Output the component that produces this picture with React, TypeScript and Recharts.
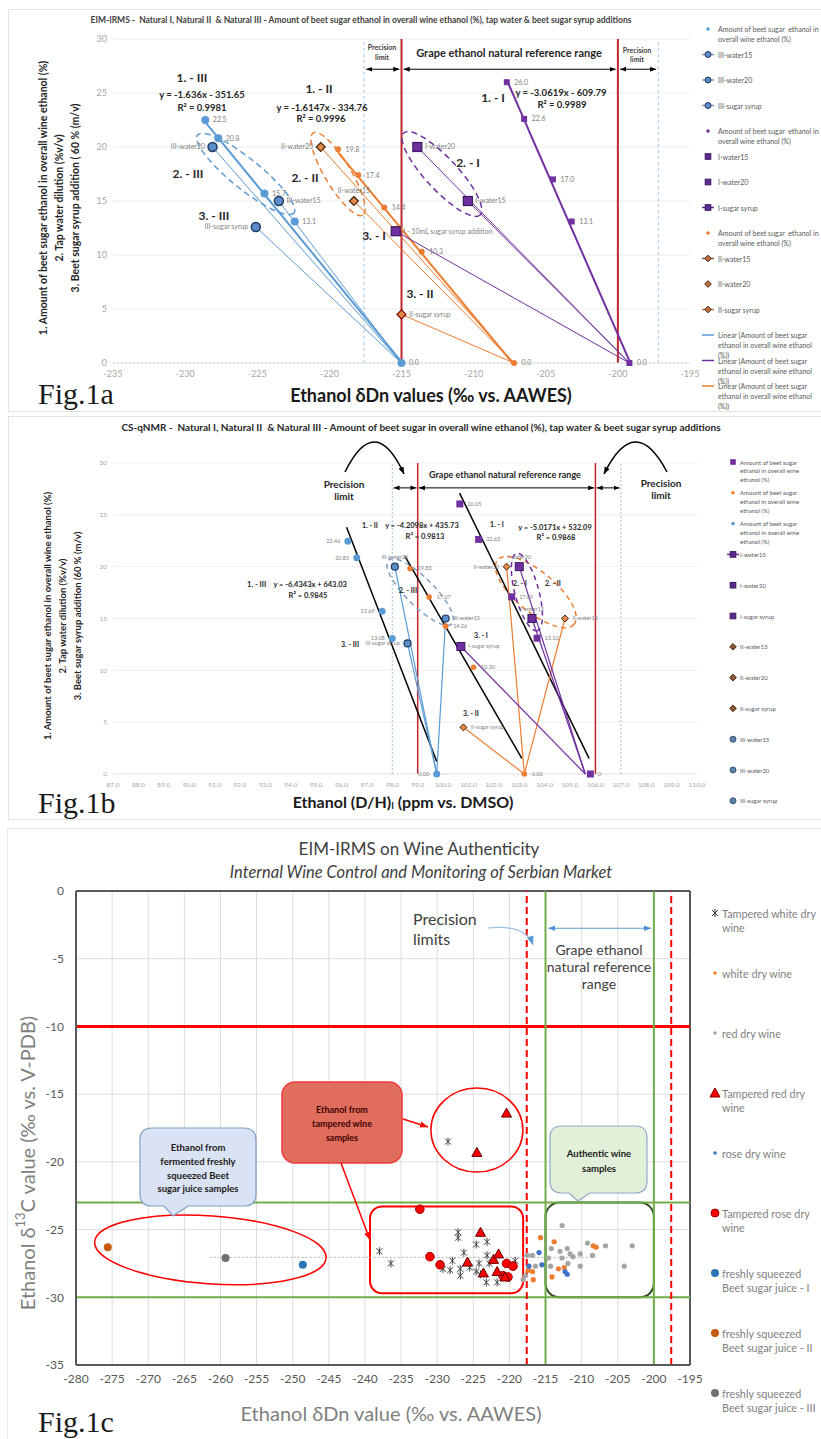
import React from "react"
import {
  ComposedChart,
  Scatter,
  XAxis,
  YAxis,
  CartesianGrid,
  ReferenceLine,
  ReferenceDot,
  ReferenceArea,
  LabelList,
} from "recharts"

const F = "Lato, 'Liberation Sans', sans-serif"
const SERIF = "'Liberation Serif', 'DejaVu Serif', serif"

const BLUE = "#5B9BD5"
const ORANGE = "#ED7D31"
const PURPLE = "#7030A0"
const NAVY = "#1F3864"
const BROWN = "#4A2409"
const DPURPLE = "#3A1860"
const RED = "#C0262D"

// ---------- Fig.1a  EIM-IRMS, δDn ----------
const aTicksX = [-235, -230, -225, -220, -215, -210, -205, -200, -195]
const yTicks30 = [0, 5, 10, 15, 20, 25, 30]
const aLimits = [-217.6, -215, -200, -197.2]

const aAmountIII = [
  { x: -228.6, y: 22.5, label: "22.5" },
  { x: -227.7, y: 20.8, label: "20.8" },
  { x: -224.5, y: 15.7, label: "15.7" },
  { x: -222.4, y: 13.1, label: "13.1" },
  { x: -215.0, y: 0, label: "0.0" },
]
const aAmountII = [
  { x: -219.4, y: 19.8, label: "19.8" },
  { x: -218.0, y: 17.4, label: "17.4" },
  { x: -216.2, y: 14.4, label: "14.4" },
  { x: -213.6, y: 10.3, label: "10.3" },
  { x: -207.2, y: 0, label: "0.0" },
]
const aAmountI = [
  { x: -207.7, y: 26.0, label: "26.0" },
  { x: -206.5, y: 22.6, label: "22.6" },
  { x: -204.5, y: 17.0, label: "17.0" },
  { x: -203.2, y: 13.1, label: "13.1" },
  { x: -199.2, y: 0, label: "0.0" },
]
const aTrendIII = [{ x: -228.6, y: 22.3 }, { x: -215.0, y: 0.1 }]
const aTrendII = [{ x: -219.4, y: 19.5 }, { x: -207.3, y: 0 }]
const aTrendI = [{ x: -207.7, y: 26.2 }, { x: -199.2, y: 0.2 }]

const aIIIWater20 = [{ x: -228.1, y: 20, label: "III-water20" }, { x: -215, y: 0, end: true }]
const aIIIWater15 = [{ x: -223.5, y: 15, label: "III-water15" }, { x: -215, y: 0, end: true }]
const aIIISyrup = [{ x: -225.1, y: 12.6, label: "III-sugar syrup" }, { x: -215, y: 0, end: true }]
const aIIWater20 = [{ x: -220.6, y: 20, label: "II-water20" }, { x: -207.2, y: 0, end: true }]
const aIIWater15 = [{ x: -218.3, y: 15, label: "II-water15" }, { x: -207.2, y: 0, end: true }]
const aIISyrup = [{ x: -215.0, y: 4.5, label: "II-sugar syrup" }, { x: -207.2, y: 0, end: true }]
const aIWater20 = [{ x: -213.9, y: 20, label: "I-water20" }, { x: -199.2, y: 0, end: true }]
const aIWater15 = [{ x: -210.4, y: 15, label: "I-water15" }, { x: -199.2, y: 0, end: true }]
const aISyrup = [{ x: -215.4, y: 12.2, label: "I - 10mL sugar syrup addition" }, { x: -199.2, y: 0, end: true }]

const amountLabel = ["Amount of beet sugar  ethanol in", "overall wine ethanol (%)"]
const linearLabel = ["Linear (Amount of beet sugar", "ethanol in overall wine ethanol", "(%))"]
const aLegendLabels = [
  amountLabel, ["III-water15"], ["III-water20"], ["III-sugar syrup"],
  amountLabel, ["I-water15"], ["I-water20"], ["I-sugar syrup"],
  amountLabel, ["II-water15"], ["II-water20"], ["II-sugar syrup"],
  linearLabel, linearLabel, linearLabel,
]

// ---------- Fig.1b  CS-qNMR, (D/H)I ----------
const bTicksX = [87, 88, 89, 90, 91, 92, 93, 94, 95, 96, 97, 98, 99, 100, 101, 102, 103, 104, 105, 106, 107, 108, 109, 110]
const bLimits = [98, 99, 106, 107]

const bAmountIII = [
  { x: 96.25, y: 22.46, label: "22.46" },
  { x: 96.6, y: 20.85, label: "20.85" },
  { x: 97.6, y: 15.69, label: "15.69" },
  { x: 98.0, y: 13.08, label: "13.08" },
  { x: 99.75, y: 0, label: "0.00" },
]
const bAmountII = [
  { x: 98.7, y: 19.83, label: "19.83" },
  { x: 99.45, y: 17.07, label: "17.07" },
  { x: 100.1, y: 14.26, label: "14.26" },
  { x: 101.2, y: 10.3, label: "10.30" },
  { x: 103.2, y: 0, label: "0.00" },
]
const bAmountI = [
  { x: 100.66, y: 26.05, label: "26.05" },
  { x: 101.4, y: 22.63, label: "22.63" },
  { x: 102.7, y: 17.09, label: "17.09" },
  { x: 103.7, y: 13.1, label: "13.10" },
  { x: 105.8, y: 0, label: "0" },
]
const bTrendIII = [{ x: 96.2, y: 23.8 }, { x: 99.75, y: 1.2 }]
const bTrendII = [{ x: 98.5, y: 21.0 }, { x: 103.1, y: 1.5 }]
const bTrendI = [{ x: 100.65, y: 27.1 }, { x: 105.75, y: 1.5 }]

const bIIIWater20 = [{ x: 98.1, y: 20, label: "III-water20" }, { x: 99.75, y: 0, end: true }]
const bIIIWater15 = [{ x: 100.1, y: 15, label: "III-water15" }, { x: 99.75, y: 0, end: true }]
const bIIISyrup = [{ x: 98.6, y: 12.6, label: "III-sugar syrup" }, { x: 99.75, y: 0, end: true }]
const bIIWater20 = [{ x: 102.5, y: 20, label: "II-water20" }, { x: 103.2, y: 0, end: true }]
const bIIWater15 = [{ x: 104.8, y: 15, label: "II-water15" }, { x: 103.2, y: 0, end: true }]
const bIISyrup = [{ x: 100.8, y: 4.5, label: "II-sugar syrup" }, { x: 103.2, y: 0, end: true }]
const bIWater20 = [{ x: 103.0, y: 20, label: "I-water20" }, { x: 105.6, y: 0, end: true }]
const bIWater15 = [{ x: 103.5, y: 15, label: "I-water15" }, { x: 105.6, y: 0, end: true }]
const bISyrup = [{ x: 100.7, y: 12.3, label: "I-sugar syrup" }, { x: 105.6, y: 0, end: true }]

const bAmount = ["Amount of beet sugar", "ethanol in overall wine", "ethanol (%)"]
const bLegendLabels = [
  bAmount, bAmount, bAmount,
  ["I-water15"], ["I-water20"], ["I-sugar syrup"],
  ["II-water15"], ["II-water20"], ["II-sugar syrup"],
  ["III-water15"], ["III-water20"], ["III-sugar syrup"],
]

// ---------- Fig.1c  δDn vs δ13C ----------
const cTicksX = [-280, -275, -270, -265, -260, -255, -250, -245, -240, -235, -230, -225, -220, -215, -210, -205, -200, -195]
const cTicksY = [-35, -30, -25, -20, -15, -10, -5, 0]

const cTamperedWhite = [
  { x: -238.0, y: -26.6 }, { x: -236.4, y: -27.5 }, { x: -228.5, y: -18.5 },
  { x: -227.1, y: -25.2 }, { x: -227.1, y: -25.6 }, { x: -224.6, y: -26.1 }, { x: -223.1, y: -25.9 },
  { x: -226.3, y: -26.7 }, { x: -227.9, y: -27.3 }, { x: -223.1, y: -26.9 }, { x: -224.2, y: -27.5 },
  { x: -228.2, y: -28.0 }, { x: -226.8, y: -27.9 }, { x: -224.6, y: -28.1 }, { x: -226.8, y: -28.4 },
  { x: -223.2, y: -28.9 }, { x: -221.7, y: -28.9 }, { x: -219.2, y: -27.3 }, { x: -229.2, y: -27.9 },
  { x: -222.8, y: -27.5 }, { x: -219.5, y: -27.6 }, { x: -225.5, y: -27.8 }, { x: -224.0, y: -28.3 },
]
const cTamperedRed = [
  { x: -220.4, y: -16.4 }, { x: -224.5, y: -19.3 }, { x: -224.0, y: -25.2 }, { x: -225.8, y: -27.4 },
  { x: -222.2, y: -27.2 }, { x: -221.5, y: -26.8 }, { x: -223.6, y: -28.2 }, { x: -221.7, y: -28.1 },
  { x: -220.6, y: -28.5 },
]
const cTamperedRose = [
  { x: -232.4, y: -23.5 }, { x: -231.0, y: -27.0 }, { x: -229.6, y: -27.6 }, { x: -220.4, y: -27.5 },
  { x: -219.5, y: -27.7 }, { x: -220.9, y: -28.4 }, { x: -220.2, y: -28.5 },
]
const cWhite = [
  { x: -215.7, y: -25.6 }, { x: -213.8, y: -25.9 }, { x: -217.4, y: -28.0 }, { x: -216.8, y: -28.1 },
  { x: -216.7, y: -28.7 }, { x: -213.2, y: -27.9 }, { x: -212.4, y: -27.8 }, { x: -214.1, y: -28.5 },
  { x: -208.4, y: -26.2 }, { x: -208.0, y: -26.3 },
]
const cRed = [
  { x: -212.7, y: -24.7 }, { x: -209.2, y: -26.0 }, { x: -206.7, y: -26.2 }, { x: -203.0, y: -26.2 },
  { x: -204.1, y: -27.7 }, { x: -210.2, y: -27.7 }, { x: -212.0, y: -26.4 }, { x: -213.0, y: -26.6 },
  { x: -214.2, y: -26.4 }, { x: -211.6, y: -26.8 }, { x: -211.2, y: -27.0 }, { x: -210.2, y: -26.8 },
  { x: -208.5, y: -26.9 }, { x: -212.7, y: -27.1 }, { x: -214.6, y: -27.1 }, { x: -211.9, y: -27.5 },
  { x: -214.3, y: -27.7 }, { x: -217.5, y: -26.9 }, { x: -216.8, y: -26.9 }, { x: -216.4, y: -27.7 },
  { x: -218.1, y: -28.7 }, { x: -217.8, y: -28.4 },
]
const cRose = [
  { x: -215.9, y: -26.7 }, { x: -217.3, y: -27.7 }, { x: -215.5, y: -27.6 }, { x: -212.3, y: -28.1 },
  { x: -212.0, y: -28.3 },
]
const cJuiceI = [{ x: -248.6, y: -27.6 }]
const cJuiceII = [{ x: -275.6, y: -26.3 }]
const cJuiceIII = [{ x: -259.3, y: -27.1 }]

const cLegendLabels = [
  ["Tampered white dry", "wine"], ["white dry wine"], ["red dry wine"], ["Tampered red dry", "wine"],
  ["rose dry wine"], ["Tampered rose dry", "wine"], ["freshly squeezed", "Beet sugar juice - I"],
  ["freshly squeezed", "Beet sugar juice - II"], ["freshly squeezed", "Beet sugar juice - III"],
]

// ---------- marker shapes ----------
const skip = (p: any) => p.payload?.end || p.cx == null
const none = () => <g />
const circ = (r: number, fill: string, stroke = "none", sw = 0) => (p: any) =>
  skip(p) ? <g /> : <circle cx={p.cx} cy={p.cy} r={r} fill={fill} stroke={stroke} strokeWidth={sw} />
const sq = (s: number, fill: string, stroke = "none", sw = 0) => (p: any) =>
  skip(p) ? <g /> : <rect x={p.cx - s / 2} y={p.cy - s / 2} width={s} height={s} fill={fill} stroke={stroke} strokeWidth={sw} />
const dia = (s: number, fill: string, stroke = "none", sw = 0) => (p: any) =>
  skip(p) ? <g /> : (
    <polygon points={`${p.cx},${p.cy - s} ${p.cx + s},${p.cy} ${p.cx},${p.cy + s} ${p.cx - s},${p.cy}`} fill={fill} stroke={stroke} strokeWidth={sw} />
  )
const tri = (s: number, fill: string, stroke: string) => (p: any) => (
  <polygon points={`${p.cx},${p.cy - s} ${p.cx + s},${p.cy + s * 0.8} ${p.cx - s},${p.cy + s * 0.8}`} fill={fill} stroke={stroke} strokeWidth={1} />
)
const star = (s: number, color: string) => (p: any) => (
  <g stroke={color} strokeWidth={1}>
    <line x1={p.cx - s} y1={p.cy - s} x2={p.cx + s} y2={p.cy + s} />
    <line x1={p.cx - s} y1={p.cy + s} x2={p.cx + s} y2={p.cy - s} />
    <line x1={p.cx} y1={p.cy - s - 1} x2={p.cx} y2={p.cy + s + 1} />
  </g>
)
const ell = (rx: number, ry: number, rot: number, stroke: string, dash?: string, sw = 1.5) => (p: any) => (
  <ellipse cx={p.cx} cy={p.cy} rx={rx} ry={ry} transform={`rotate(${rot} ${p.cx} ${p.cy})`} fill="none" stroke={stroke} strokeWidth={sw} strokeDasharray={dash} />
)
const dbl = (id: string, color: string, sw = 1) => (p: any) => (
  <line x1={p.x1} y1={p.y1} x2={p.x2} y2={p.y2} stroke={color} strokeWidth={sw} markerStart={`url(#${id})`} markerEnd={`url(#${id})`} />
)
const rrect = (rx: number, stroke: string, sw: number) => (p: any) => (
  <rect x={p.x} y={p.y} width={p.width} height={p.height} rx={rx} fill="none" stroke={stroke} strokeWidth={sw} />
)

const arrowDef = (id: string, color: string, size = 6) => (
  <marker id={id} viewBox="0 0 10 10" refX="10" refY="5" markerWidth={size} markerHeight={size} orient="auto-start-reverse" markerUnits="userSpaceOnUse">
    <path d="M0,1 L10,5 L0,9 z" fill={color} />
  </marker>
)

const lbl = (pos: any, size: number, color = "#7F7F7F") => (
  <LabelList dataKey="label" position={pos} fontSize={size} fill={color} fontFamily={F} offset={3} />
)

function FigA() {
  const tick = { fontSize: 9, fill: "#A6A6A6", fontFamily: F }
  return (
    <ComposedChart width={821} height={410} margin={{ top: 39, right: 131, bottom: 27, left: 83 }}>
      <defs>{arrowDef("hdA", "#000", 6)}</defs>
      <CartesianGrid vertical={false} stroke="#ECECEC" />
      <XAxis type="number" dataKey="x" domain={[-235, -195]} ticks={aTicksX} allowDataOverflow tickLine={false}
        axisLine={{ stroke: "#D0D0D0", strokeDasharray: "2 2" }} height={20} tick={tick} />
      <YAxis type="number" dataKey="y" domain={[0, 30]} ticks={yTicks30} tickLine={false} axisLine={false} width={30} tickMargin={0} tick={tick} />
      <ReferenceLine x={aLimits[0]} stroke="#9DC3E6" strokeDasharray="3 3" />
      <ReferenceLine x={aLimits[1]} stroke={RED} strokeWidth={2} />
      <ReferenceLine x={aLimits[2]} stroke={RED} strokeWidth={2} />
      <ReferenceLine x={aLimits[3]} stroke="#9DC3E6" strokeDasharray="3 3" />
      {[0, 1, 2].map((i) => (
        <ReferenceLine key={i} segment={[{ x: aLimits[i] + 0.15, y: 27.2 }, { x: aLimits[i + 1] - 0.15, y: 27.2 }]} shape={dbl("hdA", "#000")} />
      ))}
      <ReferenceDot x={-225.8} y={17.5} shape={ell(62, 15, 39, BLUE, "6 4")} />
      <ReferenceDot x={-219.4} y={17.5} shape={ell(48, 13, 59, ORANGE, "6 4")} />
      <ReferenceDot x={-212.2} y={17.5} shape={ell(56, 16, 47, PURPLE, "6 4")} />

      <Scatter data={aTrendIII} line={{ stroke: BLUE, strokeWidth: 2 }} shape={none} isAnimationActive={false} />
      <Scatter data={aTrendII} line={{ stroke: ORANGE, strokeWidth: 2 }} shape={none} isAnimationActive={false} />
      <Scatter data={aTrendI} line={{ stroke: PURPLE, strokeWidth: 2 }} shape={none} isAnimationActive={false} />

      <Scatter data={aIIIWater20} line={{ stroke: BLUE, strokeWidth: 1 }} shape={circ(4.5, "#5B8DC9", NAVY, 1.5)} isAnimationActive={false}>{lbl("left", 7)}</Scatter>
      <Scatter data={aIIIWater15} line={{ stroke: BLUE, strokeWidth: 1 }} shape={circ(4.5, "#5B8DC9", NAVY, 1.5)} isAnimationActive={false}>{lbl("right", 7)}</Scatter>
      <Scatter data={aIIISyrup} line={{ stroke: BLUE, strokeWidth: 1 }} shape={circ(4.5, "#5B8DC9", NAVY, 1.5)} isAnimationActive={false}>{lbl("left", 7)}</Scatter>
      <Scatter data={aIIWater20} line={{ stroke: ORANGE, strokeWidth: 1 }} shape={dia(4.5, "#E08A4A", BROWN, 1.2)} isAnimationActive={false}>{lbl("left", 7)}</Scatter>
      <Scatter data={aIIWater15} line={{ stroke: ORANGE, strokeWidth: 1 }} shape={dia(4.5, "#E08A4A", BROWN, 1.2)} isAnimationActive={false}>{lbl("top", 7)}</Scatter>
      <Scatter data={aIISyrup} line={{ stroke: ORANGE, strokeWidth: 1 }} shape={dia(4.5, "#E08A4A", "#8B0000", 1.2)} isAnimationActive={false}>{lbl("right", 7)}</Scatter>
      <Scatter data={aIWater20} line={{ stroke: PURPLE, strokeWidth: 1 }} shape={sq(9, PURPLE, DPURPLE, 1.2)} isAnimationActive={false}>{lbl("right", 7)}</Scatter>
      <Scatter data={aIWater15} line={{ stroke: PURPLE, strokeWidth: 1 }} shape={sq(9, PURPLE, DPURPLE, 1.2)} isAnimationActive={false}>{lbl("right", 7)}</Scatter>
      <Scatter data={aISyrup} line={{ stroke: PURPLE, strokeWidth: 1 }} shape={sq(9, PURPLE, DPURPLE, 1.2)} isAnimationActive={false}>{lbl("right", 7)}</Scatter>

      <Scatter data={aAmountIII} shape={circ(4, BLUE)} isAnimationActive={false}>{lbl("right", 7)}</Scatter>
      <Scatter data={aAmountII} shape={circ(3, ORANGE)} isAnimationActive={false}>{lbl("right", 7)}</Scatter>
      <Scatter data={aAmountI} shape={sq(6, PURPLE)} isAnimationActive={false}>{lbl("right", 7)}</Scatter>
    </ComposedChart>
  )
}

function FigB() {
  const tick = { fontSize: 6.5, fill: "#A6A6A6", fontFamily: F }
  return (
    <ComposedChart width={821} height={405} margin={{ top: 48, right: 124, bottom: 26, left: 83 }}>
      <defs>{arrowDef("hdB", "#000", 6)}</defs>
      <CartesianGrid vertical={false} stroke="#EFEFEF" />
      <XAxis type="number" dataKey="x" domain={[87, 110]} ticks={bTicksX} allowDataOverflow tickLine={false}
        axisLine={{ stroke: "#D9D9D9", strokeDasharray: "2 2" }} height={20} tick={tick} tickFormatter={(v: number) => v.toFixed(1)} />
      <YAxis type="number" dataKey="y" domain={[0, 30]} ticks={yTicks30} tickLine={false} axisLine={false} width={30} tickMargin={0} tick={tick} />
      <ReferenceLine x={bLimits[0]} stroke="#9DC3E6" strokeDasharray="2 2" />
      <ReferenceLine x={bLimits[1]} stroke={RED} strokeWidth={1.5} />
      <ReferenceLine x={bLimits[2]} stroke={RED} strokeWidth={1.5} />
      <ReferenceLine x={bLimits[3]} stroke="#BFBFBF" strokeDasharray="2 2" />
      {[0, 1, 2].map((i) => (
        <ReferenceLine key={i} segment={[{ x: bLimits[i] + 0.05, y: 27.6 }, { x: bLimits[i + 1] - 0.05, y: 27.6 }]} shape={dbl("hdB", "#000")} />
      ))}
      <ReferenceDot x={99.1} y={17.55} shape={ell(45, 14, 45, "#7F9FBF", "5 4")} />
      <ReferenceDot x={103.65} y={17.55} shape={ell(50, 20, 40, ORANGE, "5 4")} />
      <ReferenceDot x={103.3} y={17.55} shape={ell(40, 12, 75, PURPLE, "5 4")} />

      <Scatter data={bTrendIII} line={{ stroke: "#000", strokeWidth: 1.5 }} shape={none} isAnimationActive={false} />
      <Scatter data={bTrendII} line={{ stroke: "#000", strokeWidth: 1.5 }} shape={none} isAnimationActive={false} />
      <Scatter data={bTrendI} line={{ stroke: "#000", strokeWidth: 1.5 }} shape={none} isAnimationActive={false} />

      <Scatter data={bIIIWater20} line={{ stroke: BLUE, strokeWidth: 1.2 }} shape={circ(3.5, "#5B8DC9", NAVY, 1.2)} isAnimationActive={false}>{lbl("top", 5.5)}</Scatter>
      <Scatter data={bIIIWater15} line={{ stroke: BLUE, strokeWidth: 1.2 }} shape={circ(3.5, "#5B8DC9", NAVY, 1.2)} isAnimationActive={false}>{lbl("right", 5.5)}</Scatter>
      <Scatter data={bIIISyrup} line={{ stroke: BLUE, strokeWidth: 1.2 }} shape={circ(3.5, "#5B8DC9", NAVY, 1.2)} isAnimationActive={false}>{lbl("left", 5.5)}</Scatter>
      <Scatter data={bIIWater20} line={{ stroke: ORANGE, strokeWidth: 1.2 }} shape={dia(3.5, "#E08A4A", BROWN, 1)} isAnimationActive={false}>{lbl("left", 5.5)}</Scatter>
      <Scatter data={bIIWater15} line={{ stroke: ORANGE, strokeWidth: 1.2 }} shape={dia(3.5, "#E08A4A", BROWN, 1)} isAnimationActive={false}>{lbl("right", 5.5)}</Scatter>
      <Scatter data={bIISyrup} line={{ stroke: ORANGE, strokeWidth: 1.2 }} shape={dia(3.5, "#E08A4A", BROWN, 1)} isAnimationActive={false}>{lbl("right", 5.5)}</Scatter>
      <Scatter data={bIWater20} line={{ stroke: PURPLE, strokeWidth: 1.2 }} shape={sq(8, PURPLE, DPURPLE, 1)} isAnimationActive={false}>{lbl("top", 5.5)}</Scatter>
      <Scatter data={bIWater15} line={{ stroke: PURPLE, strokeWidth: 1.2 }} shape={sq(8, PURPLE, DPURPLE, 1)} isAnimationActive={false}>{lbl("top", 5.5)}</Scatter>
      <Scatter data={bISyrup} line={{ stroke: PURPLE, strokeWidth: 1.2 }} shape={sq(8, PURPLE, DPURPLE, 1)} isAnimationActive={false}>{lbl("right", 5.5)}</Scatter>

      <Scatter data={bAmountIII} shape={circ(3.5, BLUE)} isAnimationActive={false}>{lbl("left", 5.5)}</Scatter>
      <Scatter data={bAmountII} shape={circ(2.8, ORANGE)} isAnimationActive={false}>{lbl("right", 5.5)}</Scatter>
      <Scatter data={bAmountI} shape={sq(7, PURPLE)} isAnimationActive={false}>{lbl("right", 5.5)}</Scatter>
    </ComposedChart>
  )
}

function FigC() {
  const tick = { fontSize: 12, fill: "#595959", fontFamily: F }
  return (
    <ComposedChart width={821} height={609} margin={{ top: 61, right: 131, bottom: 44, left: 36 }}>
      <defs>{arrowDef("hdC", "#4A90D9", 7)}</defs>
      <CartesianGrid stroke="#DCDCDC" />
      <XAxis type="number" dataKey="x" domain={[-280, -195]} ticks={cTicksX} allowDataOverflow tickLine={false}
        axisLine={{ stroke: "#595959", strokeWidth: 2 }} height={30} tickMargin={3} tick={tick} />
      <YAxis type="number" dataKey="y" domain={[-35, 0]} ticks={cTicksY} tickLine={false}
        axisLine={{ stroke: "#595959", strokeWidth: 2 }} width={40} tickMargin={6} tick={tick} />
      <ReferenceLine y={0} stroke="#595959" strokeWidth={2} />
      <ReferenceLine x={-195} stroke="#595959" strokeWidth={2} />
      <ReferenceLine y={-10} stroke="#FF0000" strokeWidth={3} />
      <ReferenceLine y={-23} stroke="#70AD47" strokeWidth={2} />
      <ReferenceLine y={-30} stroke="#70AD47" strokeWidth={2} />
      <ReferenceLine x={-215} stroke="#70AD47" strokeWidth={2} />
      <ReferenceLine x={-200} stroke="#70AD47" strokeWidth={2} />
      <ReferenceLine x={-217.6} stroke="#FF0000" strokeWidth={2} strokeDasharray="7 4" />
      <ReferenceLine x={-197.6} stroke="#FF0000" strokeWidth={2} strokeDasharray="7 4" />
      <ReferenceLine segment={[{ x: -214.6, y: -2.75 }, { x: -200.4, y: -2.75 }]} shape={dbl("hdC", "#5B9BD5", 1.2)} />
      <ReferenceLine segment={[{ x: -261.5, y: -27.05 }, { x: -208, y: -27.05 }]} stroke="#B0B0B0" strokeDasharray="2 2" />
      <ReferenceArea x1={-239.3} x2={-218.1} y1={-29.7} y2={-23.3} shape={rrect(12, "#FF0000", 2)} />
      <ReferenceArea x1={-215} x2={-200} y1={-30} y2={-23} shape={rrect(14, "#2F4F1F", 2)} />
      <ReferenceDot x={-224.5} y={-17.65} shape={ell(46, 42, 0, "#FF0000", undefined, 1.5)} />
      <ReferenceDot x={-261.4} y={-26.5} shape={ell(116, 34, 4, "#FF0000", undefined, 1.5)} />

      <Scatter data={cRed} shape={circ(2.6, "#A5A5A5")} isAnimationActive={false} />
      <Scatter data={cWhite} shape={circ(2.6, ORANGE)} isAnimationActive={false} />
      <Scatter data={cRose} shape={circ(2.6, "#4472C4")} isAnimationActive={false} />
      <Scatter data={cTamperedWhite} shape={star(3, "#404040")} isAnimationActive={false} />
      <Scatter data={cTamperedRose} shape={circ(4.3, "#FF0000", "#A00000", 1)} isAnimationActive={false} />
      <Scatter data={cTamperedRed} shape={tri(5, "#FF0000", "#600000")} isAnimationActive={false} />
      <Scatter data={cJuiceI} shape={circ(4, "#2E75B6")} isAnimationActive={false} />
      <Scatter data={cJuiceII} shape={circ(4, "#C55A11")} isAnimationActive={false} />
      <Scatter data={cJuiceIII} shape={circ(4, "#6F6F6F")} isAnimationActive={false} />
    </ComposedChart>
  )
}

function T({ x, y, s = 10, b = false, c = "#262626", a = "middle", it = false, rot = 0, ff = F, base = false, children }: any) {
  return (
    <text x={x} y={y} fontSize={s} fontWeight={b ? 700 : 400} fill={c} textAnchor={a}
      dominantBaseline={base ? "auto" : "central"} fontStyle={it ? "italic" : "normal"} fontFamily={ff}
      transform={rot ? `rotate(${rot} ${x} ${y})` : undefined} xmlSpace="preserve">
      {children}
    </text>
  )
}

function Mark({ k, x, y, c, s = "none", line }: any) {
  return (
    <g>
      {line && <line x1={x - 6} y1={y} x2={x + 6} y2={y} stroke={line} strokeWidth={1.5} />}
      {k === "dot" && <circle cx={x} cy={y} r={1.8} fill={c} />}
      {k === "circ" && <circle cx={x} cy={y} r={3} fill={c} stroke={s} strokeWidth={1} />}
      {k === "bigcirc" && <circle cx={x} cy={y} r={4} fill={c} stroke={s} strokeWidth={1} />}
      {k === "sq" && <rect x={x - 2.8} y={y - 2.8} width={5.6} height={5.6} fill={c} stroke={s} strokeWidth={1} />}
      {k === "dia" && <polygon points={`${x},${y - 3.3} ${x + 3.3},${y} ${x},${y + 3.3} ${x - 3.3},${y}`} fill={c} stroke={s} strokeWidth={1} />}
      {k === "tri" && <polygon points={`${x},${y - 5} ${x + 5},${y + 4} ${x - 5},${y + 4}`} fill={c} stroke={s} strokeWidth={1} />}
      {k === "star" && (
        <g stroke={c} strokeWidth={1}>
          <line x1={x - 3} y1={y - 3} x2={x + 3} y2={y + 3} />
          <line x1={x - 3} y1={y + 3} x2={x + 3} y2={y - 3} />
          <line x1={x} y1={y - 4} x2={x} y2={y + 4} />
        </g>
      )}
    </g>
  )
}

const aMarks = [
  { k: "dot", c: BLUE }, { k: "circ", c: "#5B8DC9", s: NAVY, line: "#8497B0" }, { k: "circ", c: "#5B8DC9", s: NAVY, line: "#8497B0" },
  { k: "circ", c: "#5B8DC9", s: NAVY, line: "#8497B0" }, { k: "dot", c: PURPLE }, { k: "sq", c: "#5B2C8F", s: DPURPLE },
  { k: "sq", c: "#5B2C8F", s: DPURPLE }, { k: "sq", c: "#5B2C8F", s: DPURPLE, line: "#5B2C8F" }, { k: "dot", c: ORANGE },
  { k: "dia", c: "#C07040", s: BROWN, line: "#8B5A3C" }, { k: "dia", c: "#C07040", s: BROWN }, { k: "dia", c: "#C07040", s: BROWN, line: "#C07040" },
  { k: "none", line: BLUE }, { k: "none", line: PURPLE }, { k: "none", line: ORANGE },
]
const bMarks = [
  { k: "sq", c: PURPLE }, { k: "dot", c: ORANGE }, { k: "dot", c: BLUE },
  { k: "sq", c: "#5B2C8F", s: DPURPLE, line: PURPLE }, { k: "sq", c: "#5B2C8F", s: DPURPLE }, { k: "sq", c: "#5B2C8F", s: DPURPLE },
  { k: "dia", c: "#8B5A3C", s: BROWN }, { k: "dia", c: "#8B5A3C", s: BROWN }, { k: "dia", c: "#8B5A3C", s: BROWN },
  { k: "circ", c: "#5B7FA8", s: "#3B5778" }, { k: "circ", c: "#5B7FA8", s: "#3B5778" }, { k: "circ", c: "#5B7FA8", s: "#3B5778" },
]
const cMarks = [
  { k: "star", c: "#404040" }, { k: "dot", c: ORANGE }, { k: "dot", c: "#A5A5A5" }, { k: "tri", c: "#FF0000", s: "#800000" },
  { k: "dot", c: "#4472C4" }, { k: "bigcirc", c: "#FF0000", s: "#A00000" }, { k: "bigcirc", c: "#2E75B6" },
  { k: "bigcirc", c: "#C55A11" }, { k: "bigcirc", c: "#6F6F6F" },
]

function Overlay() {
  const yLab = [
    "1. Amount of beet sugar ethanol in overall wine ethanol (%)",
    "2. Tap water dilution (%v/v)",
  ]
  return (
    <svg width={821} height={1439} style={{ position: "absolute", left: 0, top: 0, pointerEvents: "none" }}>
      <defs>
        {arrowDef("ovK", "#000", 7)}
        {arrowDef("ovR", "#FF0000", 8)}
        {arrowDef("ovB", "#5B9BD5", 9)}
      </defs>
      {/* panel frames */}
      <rect x={8.5} y={9.5} width={820} height={402} fill="none" stroke="#E3E3E3" />
      <rect x={8.5} y={416.5} width={820} height={403} fill="none" stroke="#E3E3E3" />
      <rect x={7.5} y={828.5} width={820} height={620} fill="none" stroke="#E8E8E8" />

      {/* ---- Fig.1a ---- */}
      <T x={361} y={20} s={8.5} b c="#404040">EIM-IRMS -  Natural I, Natural II  &amp; Natural III - Amount of beet sugar ethanol in overall wine ethanol (%), tap water &amp; beet sugar syrup additions</T>
      <T x={382} y={47} s={7} b c="#404040">Precision</T>
      <T x={382} y={57} s={7} b c="#404040">limit</T>
      <T x={509} y={52} s={11} b c="#262626">Grape ethanol natural reference range</T>
      <T x={637} y={50} s={7} b c="#404040">Precision</T>
      <T x={637} y={59} s={7} b c="#404040">limit</T>
      <T x={192} y={77} s={12} b>1. - III</T>
      <T x={202} y={94} s={9.5} b>y = -1.636x - 351.65</T>
      <T x={202} y={107} s={9.5} b>R² = 0.9981</T>
      <T x={319} y={88} s={12} b>1. - II</T>
      <T x={322} y={107} s={9.5} b>y = -1.6147x - 334.76</T>
      <T x={321} y={118} s={9.5} b>R² = 0.9996</T>
      <T x={188} y={173} s={12} b>2. - III</T>
      <T x={305} y={177} s={12} b>2. - II</T>
      <T x={214} y={215} s={12} b>3. - III</T>
      <T x={374} y={235} s={12} b>3. - I</T>
      <T x={420} y={293} s={12} b>3. - II</T>
      <T x={493} y={97} s={12} b>1. - I</T>
      <T x={561} y={92} s={9.5} b>y = -3.0619x - 609.79</T>
      <T x={562} y={104} s={9.5} b>R² = 0.9989</T>
      <T x={468} y={162} s={12} b>2. - I</T>
      <T x={431} y={395} s={18} b c="#1A1A1A">Ethanol δDn values (‰ vs. AAWES)</T>
      <T x={38} y={404} s={30} a="start" ff={SERIF} base c="#1A1A1A">Fig.1a</T>
      <T x={43} y={198} s={10.5} b rot={-90}>{yLab[0]}</T>
      <T x={59} y={198} s={10.5} b rot={-90}>{yLab[1]}</T>
      <T x={75} y={198} s={10.5} b rot={-90}>3. Beet sugar syrup addition ( 60 % (m/v)</T>
      {aLegendLabels.map((lines, i) => {
        const y = 29 + i * 25.5
        const m = aMarks[i]
        return (
          <g key={i}>
            <Mark {...m} x={708} y={y} />
            {lines.map((t, j) => <T key={j} x={718} y={y + j * 10} s={7} a="start" c="#595959">{t}</T>)}
          </g>
        )
      })}

      {/* ---- Fig.1b ---- */}
      <T x={421} y={427} s={10} b c="#262626">CS-qNMR -  Natural I, Natural II  &amp; Natural III - Amount of beet sugar in overall wine ethanol (%), tap water &amp; beet sugar syrup additions</T>
      <path d="M345,472 Q375,411 404,474" fill="none" stroke="#000" strokeWidth={1.5} markerEnd="url(#ovK)" />
      <path d="M667,472 Q635,411 604,474" fill="none" stroke="#000" strokeWidth={1.5} markerEnd="url(#ovK)" />
      <T x={344} y={484} s={10} b>Precision</T>
      <T x={344} y={496} s={10} b>limit</T>
      <T x={505} y={474} s={9} b>Grape ethanol natural reference range</T>
      <T x={661} y={483} s={10} b>Precision</T>
      <T x={661} y={495} s={10} b>limit</T>
      <T x={370} y={525} s={7} b>1. - II</T>
      <T x={422} y={525} s={7.5} b>y = -4.2098x + 435.73</T>
      <T x={425} y={536} s={7.5} b>R² = 0.9813</T>
      <T x={497} y={524} s={7} b>1. - I</T>
      <T x={555} y={527} s={7.5} b>y = -5.0171x + 532.09</T>
      <T x={556} y={537} s={7.5} b>R² = 0.9868</T>
      <T x={297} y={584} s={7.5} b>1. - III    y = -6.4343x + 643.03</T>
      <T x={308} y={595} s={7.5} b>R² = 0.9845</T>
      <T x={408} y={590} s={7} b>2. - III</T>
      <T x={520} y={583} s={7} b>2. - I</T>
      <T x={553} y={583} s={7} b>2. - II</T>
      <T x={481} y={635} s={7} b>3. - I</T>
      <T x={350} y={644} s={7} b>3. - III</T>
      <T x={471} y={713} s={7} b>3. - II</T>
      <text x={403} y={801} fontSize={16} fontWeight={700} fill="#1A1A1A" textAnchor="middle" dominantBaseline="central" fontFamily={F}>
        Ethanol (D/H)<tspan fontSize={9} dy={4}>I</tspan><tspan dy={-4}> (ppm vs. DMSO)</tspan>
      </text>
      <T x={38} y={813} s={30} a="start" ff={SERIF} base c="#1A1A1A">Fig.1b</T>
      <T x={47} y={616} s={9.5} b rot={-90}>{yLab[0]}</T>
      <T x={62} y={616} s={9.5} b rot={-90}>{yLab[1]}</T>
      <T x={77} y={616} s={9.5} b rot={-90}>3. Beet sugar syrup addition (60 % (m/v)</T>
      {bLegendLabels.map((lines, i) => {
        const y = 462 + i * 30.8
        return (
          <g key={i}>
            <Mark {...bMarks[i]} x={733} y={y} />
            {lines.map((t, j) => <T key={j} x={740} y={y + j * 8.8} s={6} a="start" c="#595959">{t}</T>)}
          </g>
        )
      })}

      {/* ---- Fig.1c ---- */}
      <T x={419} y={848} s={17} c="#404040">EIM-IRMS on Wine Authenticity</T>
      <T x={421} y={872} s={16.5} it c="#404040">Internal Wine Control and Monitoring of Serbian Market</T>
      <T x={413} y={918} s={16} a="start" c="#404040">Precision</T>
      <T x={413} y={938} s={16} a="start" c="#404040">limits</T>
      <path d="M488,928 Q526,924 533,945" fill="none" stroke="#9DC3E6" strokeWidth={1.2} markerEnd="url(#ovB)" />
      <T x={599} y={949} s={14} c="#404040">Grape ethanol</T>
      <T x={599} y={966} s={14} c="#404040">natural reference</T>
      <T x={599} y={983} s={14} c="#404040">range</T>

      <rect x={282} y={1082} width={120} height={81} rx={13} fill="#DF6E5C" stroke="#F03A3A" strokeWidth={1.5} />
      <T x={342} y={1109} s={9} b c="#400000">Ethanol from</T>
      <T x={342} y={1123} s={9} b c="#400000">tampered wine</T>
      <T x={342} y={1137} s={9} b c="#400000">samples</T>
      <line x1={403} y1={1119} x2={428} y2={1127} stroke="#FF0000" strokeWidth={1.5} markerEnd="url(#ovR)" />
      <line x1={341} y1={1163} x2={370} y2={1240} stroke="#FF0000" strokeWidth={1.5} markerEnd="url(#ovR)" />

      <path d="M152,1128 H244 Q256,1128 256,1140 V1194 Q256,1206 244,1206 H188 L173,1216 L164,1206 H152 Q140,1206 140,1194 V1140 Q140,1128 152,1128 Z"
        fill="#DAE3F3" stroke="#7F9FC4" strokeWidth={1.2} />
      <T x={198} y={1147} s={9.5} b c="#1A1A1A">Ethanol from</T>
      <T x={198} y={1161} s={9.5} b c="#1A1A1A">fermented freshly</T>
      <T x={198} y={1175} s={9.5} b c="#1A1A1A">squeezed Beet</T>
      <T x={198} y={1188} s={9.5} b c="#1A1A1A">sugar juice samples</T>

      <path d="M562,1126 H635 Q647,1126 647,1138 V1181 Q647,1193 635,1193 H590 L578,1201 L569,1193 H562 Q550,1193 550,1181 V1138 Q550,1126 562,1126 Z"
        fill="#E2F0D9" stroke="#8FA8C8" strokeWidth={1.2} />
      <T x={599} y={1153} s={9.5} b c="#1A1A1A">Authentic wine</T>
      <T x={599} y={1168} s={9.5} b c="#1A1A1A">samples</T>

      <T x={391} y={1413} s={20} c="#7F7F7F">Ethanol δDn value (‰ vs. AAWES)</T>
      <text x={27} y={1163} fontSize={20} fill="#7F7F7F" textAnchor="middle" dominantBaseline="central" fontFamily={F} transform="rotate(-90 27 1163)">
        Ethanol δ<tspan fontSize={13} dy={-7}>13</tspan><tspan dy={7}>C value (‰ vs. V-PDB)</tspan>
      </text>
      <T x={38} y={1432} s={30} a="start" ff={SERIF} base c="#1A1A1A">Fig.1c</T>
      {cLegendLabels.map((lines, i) => {
        const y = 913 + i * 60
        return (
          <g key={i}>
            <Mark {...cMarks[i]} x={715} y={y} />
            {lines.map((t, j) => <T key={j} x={722} y={y + j * 14.5} s={10.8} a="start" c="#7F7F7F">{t}</T>)}
          </g>
        )
      })}
    </svg>
  )
}

export default function App() {
  return (
    <div style={{ position: "relative", width: 821, height: 1439, background: "#fff", overflow: "hidden" }}>
      <style>{"body{margin:0}"}</style>
      <div style={{ position: "absolute", left: 0, top: 0 }}><FigA /></div>
      <div style={{ position: "absolute", left: 0, top: 415 }}><FigB /></div>
      <div style={{ position: "absolute", left: 0, top: 830 }}><FigC /></div>
      <Overlay />
    </div>
  )
}
